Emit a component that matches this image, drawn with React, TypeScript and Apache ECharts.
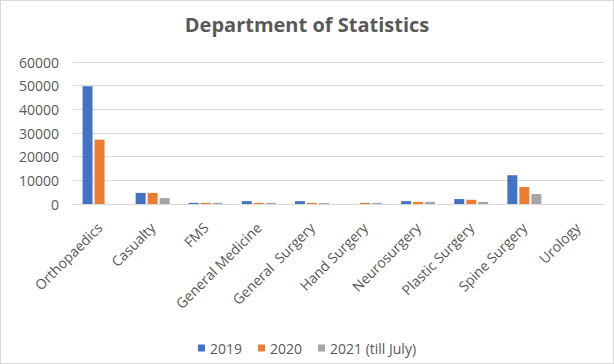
import React, { useEffect, useRef } from "react";
import * as echarts from "echarts";

const categories = [
  "Orthopaedics",
  "Casualty",
  "FMS",
  "General Medicine",
  "General  Surgery",
  "Hand Surgery",
  "Neurosurgery",
  "Plastic Surgery",
  "Spine Surgery",
  "Urology",
];
const seriesNames = ["2019", "2020", "2021 (till July)"];
const values2019 = [49800, 4700, 500, 1200, 1200, 0, 1200, 2100, 12100, 0];
const values2020 = [27200, 4700, 500, 500, 500, 500, 900, 1800, 7200, 0];
const values2021 = [0, 2500, 500, 500, 400, 500, 900, 900, 4200, 0];
const colors = ["#4472C4", "#ED7D31", "#A5A5A5"];

export default function App() {
  const ref = useRef<HTMLDivElement>(null);
  useEffect(() => {
    if (!ref.current) return;
    const chart = echarts.init(ref.current, null, { renderer: "svg" });
    const font = "'Open Sans', sans-serif";
    const data = [values2019, values2020, values2021];
    chart.setOption({
      animation: false,
      backgroundColor: "#ffffff",
      color: colors,
      textStyle: { fontFamily: font },
      title: {
        text: "Department of Statistics",
        left: "center",
        top: 8,
        textStyle: { fontFamily: font, fontSize: 20, fontWeight: "bold", color: "#595959" },
      },
      legend: {
        top: 335,
        left: "center",
        itemWidth: 7,
        itemHeight: 7,
        itemGap: 16,
        icon: "rect",
        textStyle: { fontFamily: font, fontSize: 14, color: "#595959" },
        data: seriesNames,
      },
      grid: { left: 72, right: 9, top: 61, bottom: 159, containLabel: false },
      xAxis: {
        type: "category",
        data: categories,
        axisLine: { lineStyle: { color: "#d9d9d9" } },
        axisTick: { show: false },
        axisLabel: {
          rotate: 45,
          interval: 0,
          color: "#595959",
          fontSize: 14,
          fontFamily: font,
          margin: 21,
        },
      },
      yAxis: {
        type: "value",
        min: 0,
        max: 60000,
        interval: 10000,
        axisLine: { show: false },
        axisTick: { show: false },
        splitLine: { lineStyle: { color: "#d9d9d9" } },
        axisLabel: {
          color: "#595959",
          fontSize: 14,
          fontFamily: font,
          margin: 14,
          formatter: (v: number) => String(v),
        },
      },
      series: seriesNames.map((name, i) => ({
        name,
        type: "bar",
        data: data[i],
        barWidth: 10,
        barGap: "20%",
        itemStyle: { color: colors[i] },
      })),
    });
    return () => chart.dispose();
  }, []);
  return (
    <div
      ref={ref}
      style={{
        position: "fixed",
        left: 0,
        top: 0,
        width: 614,
        height: 364,
        boxSizing: "border-box",
        border: "1px solid #d9d9d9",
        background: "#fff",
      }}
    />
  );
}
